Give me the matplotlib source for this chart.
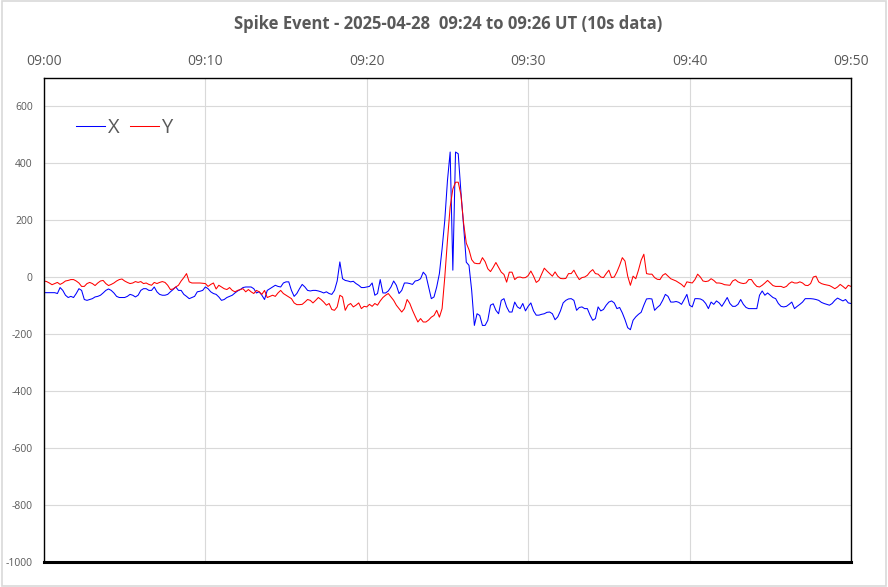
import numpy as np
import pandas as pd
import matplotlib
matplotlib.use("Agg")
import matplotlib.pyplot as plt
import matplotlib.dates as mdates
from matplotlib.patches import Rectangle

# 10 second samples, 09:00:00 to 09:50:00
times = pd.date_range("2025-04-28 09:00:00", periods=301, freq="10s")

x_vals = [
    -54, -54, -54, -54, -54, -57, -36, -46, -63, -71,
    -67, -71, -57, -40, -46, -78, -81, -78, -75, -69,
    -67, -63, -55, -46, -41, -46, -55, -67, -71, -71,
    -71, -67, -60, -63, -69, -63, -46, -40, -40, -46,
    -46, -34, -51, -60, -63, -63, -60, -51, -43, -34,
    -46,
    -46, -60, -67, -75, -71, -67, -51, -49, -46, -34,
    -40, -51, -57, -60, -69, -81, -78, -71, -67, -63,
    -55, -48, -43, -36, -34, -34, -34, -40, -55, -51,
    -63, -78, -46, -40, -34, -28, -32, -34, -20, -16,
    -16, -46, -67, -57, -40, -25, -34, -46, -48,
    -46, -46, -48, -51, -55, -51, -57, -60, -46, -13,
    54, -5, -11, -13, -16, -14, -22, -28, -36, -36,
    -34, -32, -20, -63, -57, -8, -55, -55, -48, -34,
    -13, -28, -57, -46, -20, -20, -22, -25, -13, -11,
    -5, 18, 7, -34, -75, -69, -34, 13, 100, 200,
    340, 440, 25, 440, 434, 300, 180, 53, 42, -46,
    -169, -128, -134, -169, -169, -151, -98, -93, -116, -128,
    -81, -75, -104, -122, -122, -87, -104, -110,
    -92, -118, -102, -90, -118, -133, -133, -130, -128, -123,
    -122, -128, -149, -139, -118, -90, -81, -76, -75, -81,
    -116, -106, -104, -110, -110, -133, -151, -145, -104, -118,
    -113, -98, -87, -83, -90, -110, -106, -125, -149, -177,
    -184, -151, -139, -130, -123, -98, -76, -75, -76, -116,
    -106, -98, -81, -60, -67, -87, -87, -85, -88, -95,
    -78, -60, -98, -104, -75, -75, -76, -81, -92, -110,
    -87, -95, -83, -90, -102, -87, -71, -92, -102, -102,
    -95, -78, -95, -106, -110, -110, -110, -110, -63, -48,
    -63, -55, -63, -71, -75, -92, -102, -104, -102, -95,
    -87, -110, -102, -95, -87, -75, -75, -75, -76, -78,
    -81, -88, -92, -95, -98, -92, -81, -73, -78, -83,
    -78, -90, -92,
]

y_vals = [
    -13, -15, -20, -26, -22, -18, -25, -20, -13, -11,
    -8, -8, -13, -20, -32, -32, -22, -18, -22, -29,
    -20, -13, -11, -22, -29, -25, -20, -13, -8, -6,
    -13, -18, -22, -20, -15, -18, -15, -22, -20, -25,
    -28, -18, -22, -18, -15, -18, -28, -43, -41, -34,
    -28,
    -13, -1, 13, -16, -20, -20, -20, -20, -21, -22,
    -32, -25, -20, -41, -28, -34, -40, -43, -36, -46,
    -51, -46, -43, -40, -51, -43, -51, -57, -46, -51,
    -60, -46, -71, -67, -63, -67, -55, -46, -57, -63,
    -69, -75, -90, -96, -96, -95, -87, -78, -81,
    -90, -81, -71, -78, -87, -98, -92, -113, -116, -104,
    -63, -69, -116, -98, -92, -104, -98, -90, -110, -102,
    -104, -95, -102, -92, -98, -83, -71, -63, -57, -69,
    -81, -98, -110, -122, -110, -78, -92, -116, -137, -157,
    -145, -157, -157, -150, -140, -134, -116, -140, -110, 0,
    130, 247, 310, 334, 334, 290, 190, 120, 97, 62,
    50, 48, 48, 69, 55, 30, 20, 35, 52, 35,
    18, 10, -17, 18, 18, -8, 0, 1,
    -2, -1, 6, 22, 4, -18, -11, 11, 32, 22,
    13, 4, 19, 4, -4, -5, -4, 13, 13, 25,
    7, -8, -1, 1, 7, 19, 27, 13, 11, 1,
    -1, 13, 25, -1, 1, 19, 42, 69, 57, 4,
    -28, 4, -5, 25, 60, 81, 13, 11, 11, -1,
    -7, -8, 7, 13, 4, -5, -9, -13, -19, -25,
    -34, -16, -18, -20, -8, 11, 1, -13, -15, -13,
    -5, -11, -20, -20, -22, -26, -27, -28, -13, -8,
    -16, -20, -22, -20, -8, -8, -22, -32, -34, -28,
    -20, -11, -20, -29, -32, -32, -32, -36, -32, -22,
    -16, -20, -20, -16, -20, -28, -29, -22, 1, 4,
    -16, -22, -25, -27, -29, -34, -40, -34, -25, -32,
    -40, -28, -32,
]

y_ticks = [-1000, -800, -600, -400, -200, 0, 200, 400, 600]
grey = "#595959"

plt.rcParams["font.family"] = ["Open Sans", "DejaVu Sans"]
plt.rcParams["axes.unicode_minus"] = False

fig = plt.figure(figsize=(8.88, 5.87), dpi=100)
ax = fig.add_axes([0.0495, 0.0426, 0.9088, 0.8245])

ax.plot(times, x_vals, color="#0000ff", lw=0.75, label="X")
ax.plot(times, y_vals, color="#ff0000", lw=0.75, label="Y")

ax.set_xlim(pd.Timestamp("2025-04-28 09:00"), pd.Timestamp("2025-04-28 09:50"))
ax.set_ylim(-1000, 700)
ax.set_yticks(y_ticks)

ax.xaxis.set_major_locator(mdates.MinuteLocator(byminute=range(0, 60, 10)))
ax.xaxis.set_major_formatter(mdates.DateFormatter("%H:%M"))
ax.xaxis.tick_top()
ax.tick_params(axis="x", length=0, pad=6.5, labelsize=10, colors=grey)
ax.tick_params(axis="y", length=0, pad=8, labelsize=7.5, colors=grey)

ax.grid(True, color="#d9d9d9", lw=0.8)
ax.set_axisbelow(True)
for side in ["top", "left", "right"]:
    ax.spines[side].set_color("black")
    ax.spines[side].set_linewidth(1.0)
ax.spines["bottom"].set_color("black")
ax.spines["bottom"].set_linewidth(2.2)

leg = ax.legend(loc="center left", bbox_to_anchor=(0.04, 0.897), ncol=2, frameon=False,
                fontsize=14.5, handlelength=1.45, handletextpad=0.12, columnspacing=0.5,
                borderaxespad=0, borderpad=0, labelcolor=grey)

fig.suptitle("Spike Event - 2025-04-28  09:24 to 09:26 UT (10s data)",
             x=0.505, y=0.975, fontsize=12, fontweight="bold", color=grey)

fig.patches.append(Rectangle((0.002, 0.002), 0.996, 0.996, transform=fig.transFigure,
                             fill=False, edgecolor="#d9d9d9", lw=1.2))

fig.savefig("out.png", dpi=100)
